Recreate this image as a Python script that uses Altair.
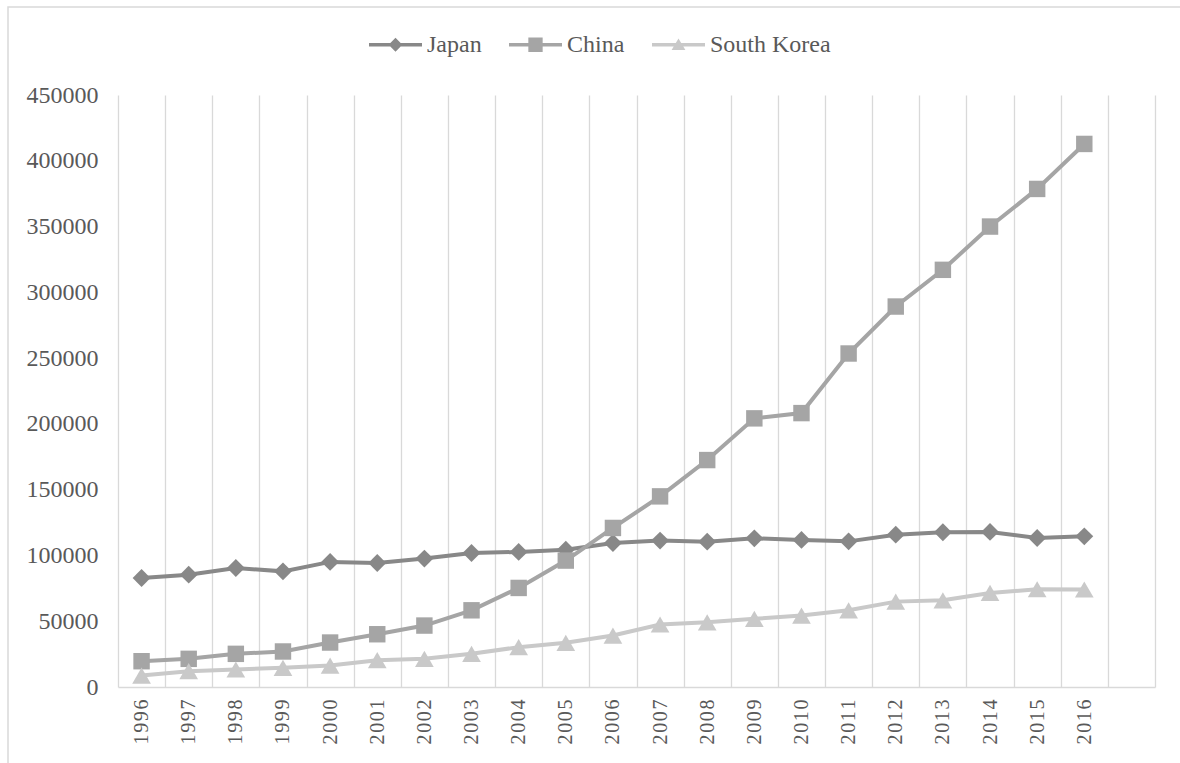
import altair as alt
import pandas as pd

# Yearly values per country
years = [str(y) for y in range(1996, 2017)]
japan = [82900, 85400, 90500, 87900, 95100, 94300, 97600, 101900, 102700, 104400,
         109500, 111300, 110500, 113000, 111800, 110700, 115800, 117600, 117900, 113300, 114500]
china = [19600, 21400, 25200, 27000, 33800, 40100, 46700, 58300, 75300, 96100,
         120900, 144900, 172500, 204200, 208200, 253500, 289200, 317100, 350000, 378600, 412800]
south_korea = [8700, 12000, 13300, 14600, 16300, 20400, 21400, 25200, 30300, 33600,
               39100, 47500, 49200, 51800, 54300, 58300, 64900, 65900, 71500, 74300, 74100]

series_names = ["Japan", "China", "South Korea"]
series_values = [japan, china, south_korea]
series_colors = ["#888888", "#a5a5a5", "#c9c9c9"]
marker_shapes = ["diamond", "square", "triangle-up"]
marker_sizes = [320, 270, 350]
y_ticks = list(range(0, 450001, 50000))

# one spare slot after the last year on the category axis
category_slots = years + [" "]

# legend keys: a short bar with the series marker in its middle, drawn in the [-1, 1] box
bar = "M-1,-0.068L1,-0.068L1,0.068L-1,0.068Z"
legend_keys = [
    bar + "M0,-0.26L0.26,0L0,0.26L-0.26,0Z",
    bar + "M-0.27,-0.27L0.27,-0.27L0.27,0.27L-0.27,0.27Z",
    bar + "M0,-0.24L0.26,0.2L-0.26,0.2Z",
]

rows = []
for name, vals in zip(series_names, series_values):
    for yr, v in zip(years, vals):
        rows.append({"year": yr, "country": name, "value": v})
df = pd.DataFrame(rows)

FONT = "Liberation Serif"
TEXT = "#595959"
GRID = "#d9d9d9"

x_enc = alt.X(
    "year:O",
    bandPosition=0.5,
    scale=alt.Scale(type="band", domain=category_slots, paddingInner=0, paddingOuter=0),
    axis=alt.Axis(
        title=None, labelAngle=270, tickBand="extent", ticks=False, grid=True,
        gridColor=GRID, gridWidth=1.3, domainColor=GRID, domainWidth=1.5,
        labelFont=FONT, labelFontSize=20, labelColor=TEXT, labelPadding=12,
        labelExpr="join(split(datum.label, ''), '\u200a')",
    ),
)
y_enc = alt.Y(
    "value:Q",
    scale=alt.Scale(domain=[0, 450000], nice=False),
    axis=alt.Axis(
        title=None, values=y_ticks, format="d", grid=False, ticks=False, domain=False,
        labelFont=FONT, labelFontSize=24, labelColor=TEXT, labelPadding=20,
    ),
)
color_scale = alt.Scale(domain=series_names, range=series_colors)

base = alt.Chart(df)

# draws no marks (every row is filtered out); it carries the legend,
# whose entries come from the fixed colour and shape domains
legend_layer = base.transform_filter("datum.value < 0").mark_point(
    filled=True, opacity=1
).encode(
    x=x_enc,
    y=y_enc,
    color=alt.Color("country:N", scale=color_scale, title=None, legend=alt.Legend(
        orient="none",
        legendX=251,
        legendY=-77,
        direction="horizontal",
        padding=0,
        symbolSize=2809,
        symbolStrokeWidth=0,
        symbolOpacity=1,
        labelFont=FONT,
        labelFontSize=24,
        labelColor=TEXT,
        labelOffset=5,
        columnPadding=27,
    )),
    shape=alt.Shape("country:N", title=None,
                    scale=alt.Scale(domain=series_names, range=legend_keys)),
)

lines = base.mark_line(strokeWidth=4).encode(
    x=x_enc,
    y=y_enc,
    color=alt.Color("country:N", scale=color_scale, legend=None),
    detail="country:N",
)

marker_layers = []
for name, shape, size in zip(series_names, marker_shapes, marker_sizes):
    marker_layers.append(
        base.transform_filter(alt.datum.country == name)
        .mark_point(shape=shape, size=size, filled=True, opacity=1, strokeWidth=0)
        .encode(
            x=x_enc,
            y=y_enc,
            color=alt.Color("country:N", scale=color_scale, legend=None),
        )
    )

# thin outer frame of the chart
frame = alt.Chart(alt.Data(values=[{"k": 1}])).mark_rect(
    fillOpacity=0, stroke=GRID, strokeWidth=1.5
).encode(
    x=alt.value(-110), x2=alt.value(1120),
    y=alt.value(-88), y2=alt.value(720),
)

chart = alt.layer(legend_layer, lines, *marker_layers, frame).properties(
    width=1037,
    height=592,
    autosize="none",
    padding={"left": 118, "top": 95, "right": 25, "bottom": 76},
).configure_view(stroke=None)

chart.save("out.html", embed_options={"renderer": "svg", "actions": False})
